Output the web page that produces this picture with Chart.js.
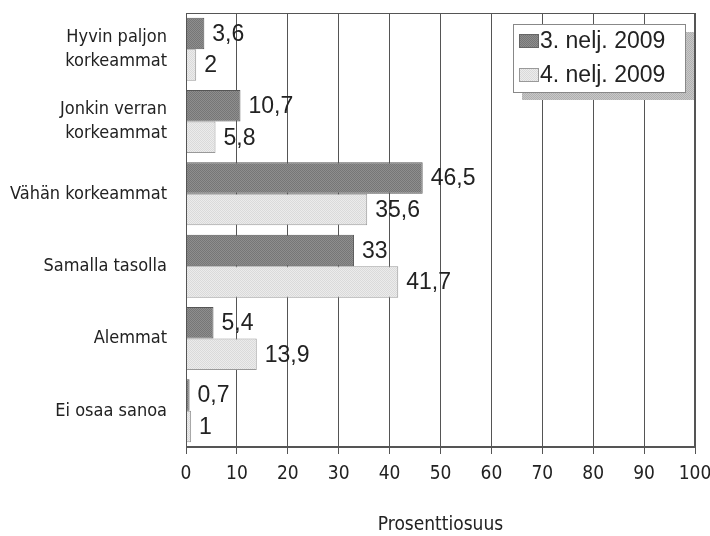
<!DOCTYPE html>
<html>
<head>
<meta charset="utf-8">
<script src="https://cdn.jsdelivr.net/npm/chart.js@4.4.1/dist/chart.umd.min.js"></script>
<style>
  html, body { margin: 0; padding: 0; background: #fff; }
  #wrap { width: 710px; height: 536px; }
</style>
</head>
<body>
<div id="wrap"><canvas id="kuvaaja"></canvas></div>
<script>
// Kategoriat ja arvot
const kategoriat = [
    ['Hyvin paljon', 'korkeammat'],
    ['Jonkin verran', 'korkeammat'],
    'Vähän korkeammat',
    'Samalla tasolla',
    'Alemmat',
    'Ei osaa sanoa'
];
const sarjaNimet = ['3. nelj. 2009', '4. nelj. 2009'];
const q3_2009 = [3.6, 10.7, 46.5, 33, 5.4, 0.7];
const q4_2009 = [2, 5.8, 35.6, 41.7, 13.9, 1];
const xTicks = [0, 10, 20, 30, 40, 50, 60, 70, 80, 90, 100];

const kapeaFontti = '"DejaVu Sans Condensed", "Liberation Sans Narrow", sans-serif';
const perusFontti = '"Liberation Sans", Arial, sans-serif';

// Rasterikuvio palkeille (skannatun kuvan pisterasteri)
function teeKuvio(vari1, vari2) {
    const c = document.createElement('canvas');
    c.width = 2; c.height = 2;
    const g = c.getContext('2d');
    g.fillStyle = vari1; g.fillRect(0, 0, 2, 2);
    g.fillStyle = vari2; g.fillRect(0, 0, 1, 1); g.fillRect(1, 1, 1, 1);
    return g.createPattern(c, 'repeat');
}
const tummaKuvio = teeKuvio('#8e8e8e', '#767676');
const vaaleaKuvio = teeKuvio('#ececec', '#dadada');
const varjoKuvio = teeKuvio('#c8c8c8', '#b0b0b0');

// Arvotekstit palkkien perään
const arvoTekstit = {
    id: 'arvoTekstit',
    afterDatasetsDraw(chart) {
        const ctx = chart.ctx;
        ctx.save();
        ctx.font = '23px ' + perusFontti;
        ctx.fillStyle = '#222';
        ctx.textBaseline = 'middle';
        ctx.textAlign = 'left';
        chart.data.datasets.forEach((ds, i) => {
            chart.getDatasetMeta(i).data.forEach((bar, j) => {
                ctx.fillText(String(ds.data[j]).replace('.', ','), bar.x + 8, bar.y + 1);
            });
        });
        ctx.restore();
    }
};

// Kuvaajan kehys ja selite varjoineen
const kehysJaSelite = {
    id: 'kehysJaSelite',
    afterDraw(chart) {
        const ctx = chart.ctx;
        const a = chart.chartArea;
        ctx.save();
        ctx.strokeStyle = '#555';
        ctx.lineWidth = 1;
        ctx.strokeRect(a.left + 0.5, a.top + 0.5, a.right - a.left - 1, a.bottom - a.top - 1);

        const w = 172, h = 68;
        const x = a.right - 10 - w, y = a.top + 11;
        ctx.fillStyle = varjoKuvio;
        ctx.fillRect(x + 9, y + 8, w, h);
        ctx.fillStyle = '#fff';
        ctx.fillRect(x, y, w, h);
        ctx.strokeStyle = '#888';
        ctx.strokeRect(x + 0.5, y + 0.5, w, h);

        const taytot = [tummaKuvio, vaaleaKuvio];
        const reunat = ['#666', '#999'];
        ctx.font = '23px ' + perusFontti;
        ctx.textBaseline = 'middle';
        sarjaNimet.forEach((nimi, i) => {
            const ry = y + 17 + i * 34;
            ctx.fillStyle = taytot[i];
            ctx.fillRect(x + 6, ry - 7, 20, 14);
            ctx.strokeStyle = reunat[i];
            ctx.strokeRect(x + 6.5, ry - 6.5, 19, 13);
            ctx.fillStyle = '#222';
            ctx.fillText(nimi, x + 27, ry + 1);
        });
        ctx.restore();
    }
};

new Chart(document.getElementById('kuvaaja'), {
    type: 'bar',
    data: {
        labels: kategoriat,
        datasets: [{
            label: sarjaNimet[0],
            data: q3_2009,
            backgroundColor: tummaKuvio,
            borderColor: '#555',
            borderWidth: 1
        }, {
            label: sarjaNimet[1],
            data: q4_2009,
            backgroundColor: vaaleaKuvio,
            borderColor: '#999',
            borderWidth: 1
        }]
    },
    options: {
        indexAxis: 'y',
        responsive: true,
        maintainAspectRatio: false,
        animation: false,
        devicePixelRatio: 1,
        layout: { padding: { top: 13, right: 15, left: 0, bottom: 0 } },
        datasets: { bar: { categoryPercentage: 0.87, barPercentage: 1 } },
        plugins: {
            legend: { display: false },
            tooltip: { enabled: false }
        },
        scales: {
            x: {
                min: 0,
                max: 100,
                afterBuildTicks(scale) {
                    scale.ticks = xTicks.map(v => ({ value: v }));
                },
                afterFit(scale) {
                    scale.height = 89;
                    scale.paddingLeft = 0;
                    scale.paddingRight = 0;
                },
                grid: {
                    color: '#555',
                    lineWidth: 1,
                    tickLength: 7,
                    drawTicks: true
                },
                border: { display: true, color: '#555' },
                ticks: {
                    color: '#222',
                    padding: 9,
                    maxRotation: 0,
                    font: { family: kapeaFontti, size: 19 }
                },
                title: {
                    display: true,
                    text: 'Prosenttiosuus',
                    color: '#222',
                    padding: { top: 0, bottom: 0 },
                    font: { family: kapeaFontti, size: 19, lineHeight: 1.2 }
                }
            },
            y: {
                afterFit(scale) {
                    scale.width = 186;
                    scale.paddingTop = 0;
                    scale.paddingBottom = 0;
                },
                grid: { display: false, drawTicks: false },
                border: { display: true, color: '#555' },
                ticks: {
                    color: '#222',
                    padding: 19,
                    font: { family: kapeaFontti, size: 18, lineHeight: 1.3 }
                }
            }
        }
    },
    plugins: [arvoTekstit, kehysJaSelite]
});
</script>
</body>
</html>
